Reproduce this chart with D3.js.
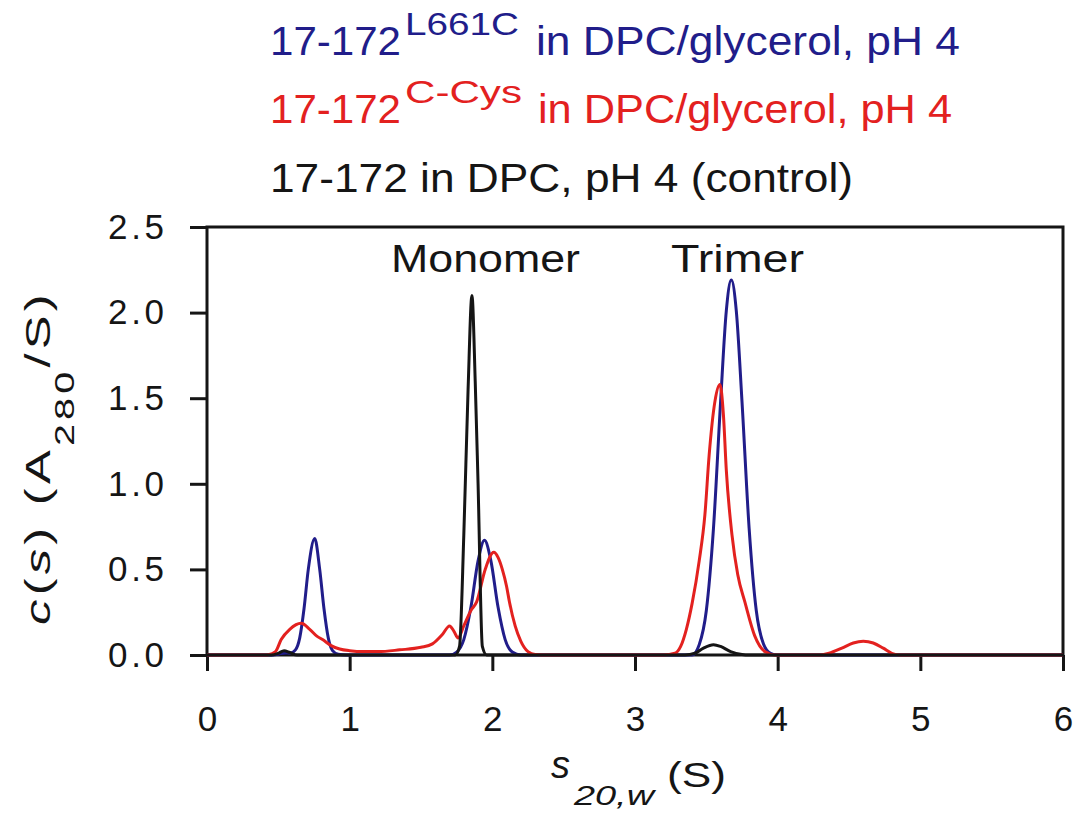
<!DOCTYPE html>
<html><head><meta charset="utf-8">
<script src="https://cdn.jsdelivr.net/npm/d3@7"></script>
<style>body{margin:0;background:#fff}svg{display:block}text{font-family:"Liberation Sans",Arial,sans-serif}</style>
</head><body>
<svg id="c" width="1086" height="813"></svg>
<script>
// ---- data (s in S, c(s) in A280/S) ----
const xTicks = [0,1,2,3,4,5,6];
const yTicks = [0,0.5,1.0,1.5,2.0,2.5];
const blueS = [0,0.45,0.5,0.55,0.58,0.62,0.65,0.68,0.71,0.755,0.79,0.82,0.85,0.88,0.92,0.97,1.7,1.75,1.8,1.85,1.9,1.945,1.99,2.04,2.09,2.14,2.2,3.4,3.45,3.5,3.55,3.6,3.64,3.675,3.71,3.75,3.8,3.85,3.9,3.95,4.0,6.0];
const blueC = [0,0,0.005,0.012,0.01,0.03,0.1,0.27,0.5,0.68,0.5,0.27,0.1,0.026,0.004,0,0,0.017,0.09,0.28,0.55,0.67,0.55,0.28,0.09,0.017,0,0,0.06,0.26,0.74,1.48,2.01,2.19,2.01,1.48,0.74,0.26,0.066,0.01,0,0];
const redS = [0,0.4,0.43,0.48,0.52,0.58,0.66,0.72,0.77,0.81,0.87,0.93,1.0,1.1,1.2,1.35,1.5,1.58,1.65,1.7,1.73,1.76,1.8,1.85,1.89,1.95,2.01,2.04,2.07,2.1,2.12,2.16,2.2,2.25,2.3,2.4,3.2,3.28,3.32,3.36,3.4,3.45,3.49,3.52,3.56,3.595,3.62,3.64,3.68,3.72,3.77,3.84,3.91,3.98,4.3,4.36,4.45,4.53,4.6,4.67,4.74,4.8,4.86,6.0];
const redC = [0,0,0.002,0.02,0.09,0.15,0.185,0.15,0.11,0.09,0.055,0.035,0.025,0.02,0.02,0.03,0.045,0.065,0.12,0.17,0.14,0.1,0.17,0.26,0.31,0.5,0.6,0.57,0.5,0.4,0.31,0.17,0.08,0.02,0.003,0,0,0.01,0.05,0.15,0.3,0.55,0.82,1.17,1.48,1.58,1.4,1.08,0.7,0.47,0.31,0.11,0.02,0,0,0.01,0.04,0.07,0.08,0.07,0.04,0.01,0,0];
const blackS = [0,0.45,0.5,0.54,0.58,0.63,1.74,1.77,1.8,1.83,1.857,1.88,1.9,1.93,1.96,3.35,3.42,3.48,3.55,3.6,3.67,3.75,3.8,6.0];
const blackC = [0,0,0.01,0.025,0.015,0,0,0.05,0.7,1.55,2.1,1.6,1.0,0.05,0,0,0.01,0.04,0.06,0.05,0.02,0.003,0,0];
const legendMain = ["17-172","17-172","17-172 in DPC, pH 4 (control)"];
const legendSup = ["L661C","C-Cys",""];
const legendRest = ["in DPC/glycerol, pH 4","in DPC/glycerol, pH 4",""];
const peakLabels = ["Monomer","Trimer"];

const svg = d3.select("#c");
const X0=207, X1=1063, Y0=655, Y1=227;
const x = d3.scaleLinear().domain([0,6]).range([X0,X1]);
const y = d3.scaleLinear().domain([0,2.5]).range([Y0,Y1]);
const blue="#211d8a", red="#e3211f", black="#151515";

// frame
svg.append("rect").attr("x",X0).attr("y",Y1).attr("width",X1-X0).attr("height",Y0-Y1)
  .attr("fill","none").attr("stroke",black).attr("stroke-width",3);

// axes
const xa = svg.append("g").attr("transform",`translate(0,${Y0})`)
  .call(d3.axisBottom(x).tickValues(xTicks).tickSize(16).tickSizeOuter(0).tickPadding(35).tickFormat(d3.format("d")));
const ya = svg.append("g").attr("transform",`translate(${X0},0)`)
  .call(d3.axisLeft(y).tickValues(yTicks).tickSize(17).tickSizeOuter(0).tickPadding(26).tickFormat(d3.format(".1f")));
[xa,ya].forEach(a=>{a.select(".domain").remove();
  a.selectAll(".tick line").attr("stroke",black).attr("stroke-width",3);
  a.selectAll(".tick text").attr("fill",black).style("font-size","35px").style("font-family","'Liberation Sans',Arial,sans-serif");});
ya.selectAll(".tick text").attr("textLength",56).attr("lengthAdjust","spacing");

// curves
const line = d3.line().x(d=>x(d[0])).y(d=>y(d[1])).curve(d3.curveMonotoneX);
const series = [[blueS,blueC,blue],[redS,redC,red],[blackS,blackC,black]];
series.forEach(([s,c,col])=>{
  svg.append("path").datum(s.map((v,i)=>[v,c[i]])).attr("d",line)
    .attr("fill","none").attr("stroke",col).attr("stroke-width",3).attr("stroke-linejoin","round");
});

function txt(xp,yp,str,size,len,col,italic){
  const t=svg.append("text").attr("x",xp).attr("y",yp).attr("fill",col||black).style("font-size",size+"px").text(str);
  if(len) t.attr("textLength",len).attr("lengthAdjust","spacingAndGlyphs");
  if(italic) t.style("font-style","italic");
  return t;
}

// annotations
txt(391,272,peakLabels[0],38,189);
txt(671,272,peakLabels[1],38,133);

// legend
txt(270,55,legendMain[0],40,131,blue); txt(405,35,legendSup[0],32,114,blue); txt(536,55,legendRest[0],40,424,blue);
txt(270,123,legendMain[1],40,131,red); txt(405,103,legendSup[1],32,117,red); txt(538,123,legendRest[1],40,414,red);
txt(270,192,legendMain[2],40,583,black);

// y title (letter-spaced, lightly stretched along reading direction)
const yg = svg.append("g").attr("transform","translate(50,457.5) rotate(-90)");
const yt = yg.append("text").attr("fill",black).style("font-size","36px").style("letter-spacing","3px").attr("text-anchor","middle");
yt.append("tspan").style("font-style","italic").text("c");
yt.append("tspan").text("(");
yt.append("tspan").style("font-style","italic").text("s");
yt.append("tspan").text(") (A");
yt.append("tspan").attr("dy",24).style("font-size","28px").text("280");
yt.append("tspan").attr("dy",-24).text("/S)");
const bb = yt.node().getBBox();
const k = 335/bb.width;
yt.attr("transform",`scale(${k},1) translate(${-(bb.x+bb.width/2)},0)`);

// x title
txt(551,778,"s",38,null,black,true);
txt(574,805,"20,w",28,80,black,true);
txt(667,787,"(S)",35,59,black);
</script>
</body></html>
